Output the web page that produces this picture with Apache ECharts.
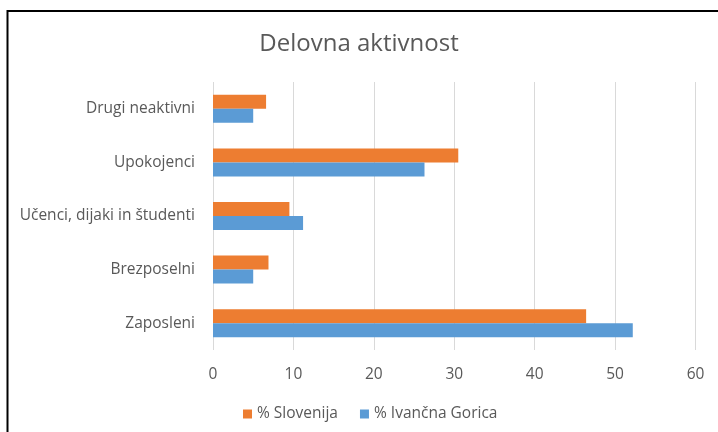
<!DOCTYPE html>
<html>
<head>
<meta charset="utf-8">
<script src="https://cdn.jsdelivr.net/npm/echarts@6/dist/echarts.min.js"></script>
<style>
  html, body { margin: 0; padding: 0; background: #fff; }
  #chart { width: 718px; height: 432px; }
</style>
</head>
<body>
<div id="chart"></div>
<script>
// bottom-to-top order, as the category axis draws it
const categories = ['Zaposleni', 'Brezposelni', 'Učenci, dijaki in študenti', 'Upokojenci', 'Drugi neaktivni'];
const slovenija = [46.4, 6.9, 9.5, 30.5, 6.6];
const ivancnaGorica = [52.2, 5.0, 11.2, 26.3, 5.0];
const xTicks = [0, 10, 20, 30, 40, 50, 60];

const textColor = '#595959';
const font = 'Open Sans';

const chart = echarts.init(document.getElementById('chart'));

chart.setOption({
  backgroundColor: '#fff',
  animation: false,
  title: {
    text: 'Delovna aktivnost',
    left: 'center',
    top: 27,
    textStyle: { color: textColor, fontFamily: font, fontSize: 24, fontWeight: 'normal' }
  },
  // frame edges visible in the picture (top and left)
  graphic: [
    { type: 'line', shape: { x1: 7.5, y1: 11, x2: 718, y2: 11 }, style: { stroke: '#000', lineWidth: 2 } },
    { type: 'line', shape: { x1: 7.5, y1: 10, x2: 7.5, y2: 432 }, style: { stroke: '#000', lineWidth: 2 } }
  ],
  legend: {
    data: ['% Slovenija', '% Ivančna Gorica'],
    left: 238,
    top: 401,
    itemWidth: 9,
    itemHeight: 9,
    itemGap: 22,
    icon: 'rect',
    textStyle: { color: textColor, fontFamily: font, fontSize: 15.5 }
  },
  grid: { left: 213, right: 22.5, top: 82, bottom: 82 },
  xAxis: {
    type: 'value',
    min: xTicks[0],
    max: xTicks[xTicks.length - 1],
    interval: 10,
    axisLine: { show: false },
    axisTick: { show: false },
    axisLabel: { color: textColor, fontFamily: font, fontSize: 15.5, margin: 17 },
    splitLine: { lineStyle: { color: '#d9d9d9', width: 1 } }
  },
  yAxis: {
    type: 'category',
    data: categories,
    axisLine: { show: false },
    axisTick: { show: false },
    axisLabel: { color: textColor, fontFamily: font, fontSize: 15.5, margin: 18 }
  },
  series: [
    {
      name: '% Slovenija',
      type: 'bar',
      data: slovenija,
      barWidth: 14,
      barGap: '0%',
      itemStyle: { color: '#ed7d31' }
    },
    {
      name: '% Ivančna Gorica',
      type: 'bar',
      data: ivancnaGorica,
      barWidth: 14,
      barGap: '0%',
      itemStyle: { color: '#5b9bd5' }
    }
  ]
});
</script>
</body>
</html>
